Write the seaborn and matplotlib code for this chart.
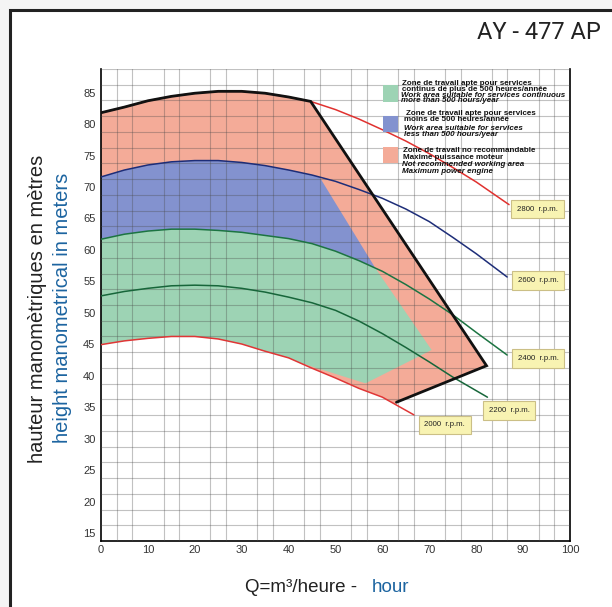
import numpy as np
import pandas as pd
import matplotlib
matplotlib.use("Agg")
import matplotlib.pyplot as plt
import seaborn as sns
from matplotlib.patches import Rectangle

# ---------------- data ----------------
q_2800 = [0, 5, 10, 15, 20, 25, 30, 35, 40, 44.7, 50, 55, 60, 65, 70, 75, 80, 87]
h_2800 = [81.8, 82.7, 83.7, 84.4, 84.9, 85.2, 85.2, 84.9, 84.3, 83.6, 82.3, 80.8, 79.1, 77.3, 75.3, 73.1, 70.8, 67.2]

q_2600 = [0, 5, 10, 15, 20, 25, 30, 35, 40, 45, 50, 55, 60, 65, 70, 75, 80, 86.6]
h_2600 = [71.6, 72.7, 73.5, 74.0, 74.2, 74.2, 73.9, 73.4, 72.7, 71.9, 70.9, 69.6, 68.2, 66.5, 64.5, 62.0, 59.4, 55.7]

q_2400 = [0, 5, 10, 15, 20, 25, 30, 35, 40, 45, 50, 55, 60, 65, 70, 75, 80, 86.6]
h_2400 = [61.7, 62.5, 63.0, 63.3, 63.3, 63.1, 62.8, 62.3, 61.8, 61.0, 59.8, 58.3, 56.6, 54.5, 52.2, 49.7, 46.9, 43.3]

q_2200 = [0, 5, 10, 15, 20, 25, 30, 35, 40, 45, 50, 55, 60, 65, 70, 75, 82.4]
h_2200 = [52.7, 53.4, 53.9, 54.3, 54.4, 54.3, 53.9, 53.3, 52.5, 51.6, 50.4, 48.7, 46.7, 44.5, 42.2, 39.8, 36.6]

q_2000 = [0, 5, 10, 15, 20, 25, 30, 35, 40, 45, 50, 55, 60, 66.7]
h_2000 = [44.95, 45.55, 45.95, 46.25, 46.25, 45.85, 45.05, 43.9, 42.85, 41.2, 39.65, 38.0, 36.6, 33.8]

rpm_names = ["2800", "2600", "2400", "2200", "2000"]
rpm_text = ["2800  r.p.m.", "2600  r.p.m.", "2400  r.p.m.", "2200  r.p.m.", "2000  r.p.m."]

# zone corner points
power_limit_q = [44.7, 82.2, 63.0]          # kink on 2800 curve, right corner, end on 2000 curve
power_limit_h = [83.6, 41.6, 35.8]
divider_top_q = 46.6                         # on 2600 curve
divider_mid_q = 58.5                         # on 2400 curve
divider_end = (70.5, 44.1)
green_low_corner = (56.4, 38.8)
green_join_q = 42.2                          # where green meets the 2000 curve

x_ticks = list(range(0, 101, 10))
y_ticks = list(range(15, 86, 5))

legend_texts = [
    ["Zone de travail apte pour services", "continus de plus de 500 heures/année",
     "Work area suitable for services continuous", "more than 500 hours/year"],
    ["Zone de travail apte pour services", "moins de 500 heures/année",
     "Work area suitable for services", "less than 500 hours/year"],
    ["Zone de travail no recommandable", "Maxime puissance moteur",
     "Not recommended working area", "Maximum power engine"],
]

# ---------------- style ----------------
SALMON = "#f4ab98"
BLUE = "#8392cf"
GREEN = "#9dd3b4"
curve_colors = {"2800": "#e0312f", "2600": "#1d2d78", "2400": "#1c7442",
                "2200": "#17663a", "2000": "#e03636"}

sns.set_theme(style="white")
plt.rcParams["font.family"] = ["Liberation Sans", "DejaVu Sans"]

W, H = 612, 607
fig = plt.figure(figsize=(W / 100, H / 100), dpi=100, facecolor="#f4f4f4")


def fx(px):
    return px / W


def fy(py):
    return 1 - py / H


panel = Rectangle((fx(10), -0.2), 1.5, fy(10) + 0.2, transform=fig.transFigure,
                  facecolor="white", edgecolor="#222222", linewidth=2.2, zorder=-5)
fig.patches.append(panel)

ax = fig.add_axes([fx(101), fy(541), (570 - 101) / W, (541 - 69) / H])
ax.set_zorder(1)
ax.set_facecolor("white")
ax.set_xlim(0, 100)
ax.set_ylim(13.75, 88.75)


def seg(q, h, q0, q1):
    q = np.asarray(q, float)
    h = np.asarray(h, float)
    inner = (q > q0) & (q < q1)
    qs = np.concatenate([[q0], q[inner], [q1]])
    return qs, np.interp(qs, q, h)


# salmon zone
tq, th = seg(q_2800, h_2800, 0, power_limit_q[0])
bq, bh = seg(q_2000, h_2000, 0, power_limit_q[2])
sal_q = np.concatenate([tq, power_limit_q[1:], bq[::-1]])
sal_h = np.concatenate([th, power_limit_h[1:], bh[::-1]])
ax.fill(sal_q, sal_h, color=SALMON, lw=0, zorder=1)

# blue zone
uq, uh = seg(q_2600, h_2600, 0, divider_top_q)
lq, lh = seg(q_2400, h_2400, 0, divider_mid_q)
ax.fill(np.concatenate([uq, lq[::-1]]), np.concatenate([uh, lh[::-1]]), color=BLUE, lw=0, zorder=1.1)

# green zone
gq, gh = seg(q_2000, h_2000, 0, green_join_q)
grn_q = np.concatenate([lq, [divider_end[0], green_low_corner[0]], gq[::-1]])
grn_h = np.concatenate([lh, [divider_end[1], green_low_corner[1]], gh[::-1]])
ax.fill(grn_q, grn_h, color=GREEN, lw=0, zorder=1.1)

# grid
ax.set_xticks(x_ticks)
ax.set_yticks(y_ticks)
ax.set_xticks(np.arange(0, 100.01, 10 / 3), minor=True)
ax.set_yticks(np.arange(13.75, 88.76, 2.5), minor=True)
ax.grid(False, which="major")
ax.grid(True, which="minor", color="#4a4a4a", alpha=0.34, linewidth=0.8)
ax.set_axisbelow(False)
ax.tick_params(which="both", length=0, labelsize=8, labelcolor="#333333", pad=4)
ax.tick_params(axis="x", pad=3)

# curves
frames = []
for name, q, h in zip(rpm_names, [q_2800, q_2600, q_2400, q_2200, q_2000],
                      [h_2800, h_2600, h_2400, h_2200, h_2000]):
    frames.append(pd.DataFrame({"Q": q, "H": h, "rpm": name}))
df = pd.concat(frames, ignore_index=True)
sns.lineplot(data=df, x="Q", y="H", hue="rpm", palette=curve_colors, estimator=None,
             units="rpm", linewidth=1.1, legend=False, ax=ax, zorder=3)

# black power limit outline
ax.plot(np.concatenate([tq, power_limit_q[1:]]), np.concatenate([th, power_limit_h[1:]]),
        color="#111111", lw=2.0, zorder=4, solid_joinstyle="miter")

# rpm label boxes
label_q = [93.1, 93.2, 93.2, 87.0, 73.3]
label_h = [66.5, 55.1, 42.8, 34.5, 32.2]
for t, lq_, lh_ in zip(rpm_text, label_q, label_h):
    ax.text(lq_, lh_, t, fontsize=5.6, color="#222222", ha="center", va="center", zorder=6,
            bbox=dict(boxstyle="square,pad=0.75", fc="#f8f3b2", ec="#cbbf86", lw=0.8))

for s in ["left", "bottom", "right"]:
    ax.spines[s].set_visible(True)
    ax.spines[s].set_color("black")
    ax.spines[s].set_linewidth(1.2)
ax.spines["top"].set_visible(False)
ax.set_xlabel("")
ax.set_ylabel("")

# legend
swatch_y = [(85, 101.5), (116, 132), (147, 162.5)]
swatch_cols = [GREEN, BLUE, SALMON]
line_y = [[83.5, 89.5, 95.5, 101], [113.5, 120, 129, 135], [151, 157.5, 165, 171]]
line_x = [[401.5, 402.3, 400.7, 400.7], [405.7, 404.3, 404.3, 404.3], [403.3, 403.3, 402.3, 401.7]]
for (y0, y1), c, ys, xs, texts in zip(swatch_y, swatch_cols, line_y, line_x, legend_texts):
    ax.add_patch(Rectangle((fx(383), fy(y1)), (398 - 383) / W, (y1 - y0) / H,
                           transform=fig.transFigure, fc=c, ec="none", zorder=5))
    for i, (yy, xx, t) in enumerate(zip(ys, xs, texts)):
        ax.text(fx(xx), fy(yy), t, fontsize=5.8, fontweight="bold",
                fontstyle="italic" if i >= 2 else "normal", transform=fig.transFigure,
                color="#111111", ha="left", va="center", zorder=6)

# axis titles
fig.text(fx(38), fy(309), "hauteur manomètriques en mètres", rotation=90, fontsize=14.5,
         color="#222222", ha="center", va="center")
fig.text(fx(63), fy(308), "height manometrical in meters", rotation=90, fontsize=14.5,
         color="#1c64a0", ha="center", va="center")
fig.text(fx(357), fy(592.5), "Q=m³/heure -", fontsize=13.5, color="#222222", ha="right", va="baseline")
fig.text(fx(372), fy(592.5), "hour", fontsize=13.5, color="#1c64a0", ha="left", va="baseline")

fig.text(fx(601), fy(39), "AY - 477 AP", fontsize=17, color="#222222", ha="right",
         va="baseline", family=["Roboto", "DejaVu Sans"])

fig.savefig("out.png", dpi=100, facecolor=fig.get_facecolor())
